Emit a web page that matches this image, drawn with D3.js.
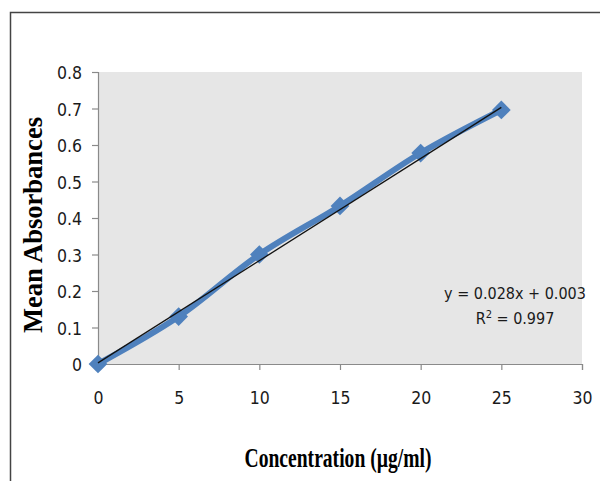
<!DOCTYPE html>
<html>
<head>
<meta charset="utf-8">
<script src="https://d3js.org/d3.v7.min.js"></script>
<style>
  body { margin: 0; background: #fff; }
  svg { display: block; }
  .tick-label { font-family: "DejaVu Sans Condensed", "DejaVu Sans", sans-serif; font-stretch: condensed; font-size: 17.5px; fill: #1a1a1a; }
  .title { font-family: "Liberation Serif", "Times New Roman", serif; font-weight: bold; font-size: 28px; fill: #000; }
  .eq { font-family: "DejaVu Sans Condensed", "DejaVu Sans", sans-serif; font-stretch: condensed; font-size: 16px; fill: #1a1a1a; }
</style>
</head>
<body>
<div id="chart"></div>
<script>
// data
const concentration = [0, 5, 10, 15, 20, 25];
const absorbance = [0, 0.13, 0.30, 0.433, 0.578, 0.696];
const xTicks = [0, 5, 10, 15, 20, 25, 30];
const yTicks = [0, 0.1, 0.2, 0.3, 0.4, 0.5, 0.6, 0.7, 0.8];
const slope = 0.028, intercept = 0.003;

const width = 600, height = 481;
const plot = { left: 98, right: 582, top: 72, bottom: 364 };

const svg = d3.select('#chart').append('svg')
  .attr('width', width)
  .attr('height', height);

// outer chart border (runs off the right and bottom edges)
svg.append('rect')
  .attr('x', 10.5).attr('y', 12.5)
  .attr('width', 620).attr('height', 500)
  .attr('fill', 'none')
  .attr('stroke', '#444').attr('stroke-width', 1.5);

const x = d3.scaleLinear().domain([0, 30]).range([plot.left, plot.right]);
const y = d3.scaleLinear().domain([0, 0.8]).range([plot.bottom, plot.top]);

// plot area
svg.append('rect')
  .attr('x', plot.left).attr('y', plot.top)
  .attr('width', plot.right - plot.left)
  .attr('height', plot.bottom - plot.top)
  .attr('fill', '#e6e6e6');

// axes
const xAxis = svg.append('g')
  .attr('transform', `translate(0,${plot.bottom})`)
  .call(d3.axisBottom(x).tickValues(xTicks).tickSize(6).tickPadding(22).tickFormat(d3.format('d')));
const yAxis = svg.append('g')
  .attr('transform', `translate(${plot.left},0)`)
  .call(d3.axisLeft(y).tickValues(yTicks).tickSize(6).tickPadding(10).tickFormat(d => d === 0 ? '0' : d3.format('.1f')(d)));

[xAxis, yAxis].forEach(g => {
  g.select('.domain').attr('stroke', '#8a8a8a').attr('stroke-width', 1.2);
  g.selectAll('.tick line').attr('stroke', '#8a8a8a').attr('stroke-width', 1.2);
  g.selectAll('.tick text').attr('class', 'tick-label').attr('font-family', null).attr('font-size', null).attr('fill', null);
});
yAxis.selectAll('.tick text').attr('dy', '0.38em');

// data series
const series = concentration.map((c, i) => [c, absorbance[i]]);
const line = d3.line().x(d => x(d[0])).y(d => y(d[1])).curve(d3.curveCatmullRom.alpha(0.5));

svg.append('path')
  .datum(series)
  .attr('d', line)
  .attr('fill', 'none')
  .attr('stroke', '#4f81bd')
  .attr('stroke-width', 6)
  .attr('stroke-linejoin', 'round');

svg.append('g')
  .selectAll('path')
  .data(series)
  .join('path')
  .attr('d', d3.symbol(d3.symbolSquare, 175))
  .attr('transform', d => `translate(${x(d[0])},${y(d[1])}) rotate(45)`)
  .attr('fill', '#4f81bd');

// linear trendline
const trendX = [0, 25];
svg.append('line')
  .attr('x1', x(trendX[0])).attr('y1', y(slope * trendX[0] + intercept))
  .attr('x2', x(trendX[1])).attr('y2', y(slope * trendX[1] + intercept))
  .attr('stroke', '#111').attr('stroke-width', 1.3);

// equation label
svg.append('text')
  .attr('class', 'eq')
  .attr('x', 515).attr('y', 299)
  .attr('text-anchor', 'middle')
  .text('y = 0.028x + 0.003');
const r2 = svg.append('text')
  .attr('class', 'eq')
  .attr('x', 515).attr('y', 324)
  .attr('text-anchor', 'middle');
r2.append('tspan').text('R');
r2.append('tspan').attr('dy', -6).attr('font-size', 11).text('2');
r2.append('tspan').attr('dy', 6).text(' = 0.997');

// axis titles
svg.append('text')
  .attr('class', 'title')
  .attr('x', 338).attr('y', 467)
  .attr('text-anchor', 'middle')
  .attr('textLength', 187).attr('lengthAdjust', 'spacingAndGlyphs')
  .text('Concentration (µg/ml)');

svg.append('text')
  .attr('class', 'title')
  .attr('transform', 'translate(42,225) rotate(-90)')
  .attr('text-anchor', 'middle')
  .attr('textLength', 216).attr('lengthAdjust', 'spacingAndGlyphs')
  .text('Mean Absorbances');
</script>
</body>
</html>
